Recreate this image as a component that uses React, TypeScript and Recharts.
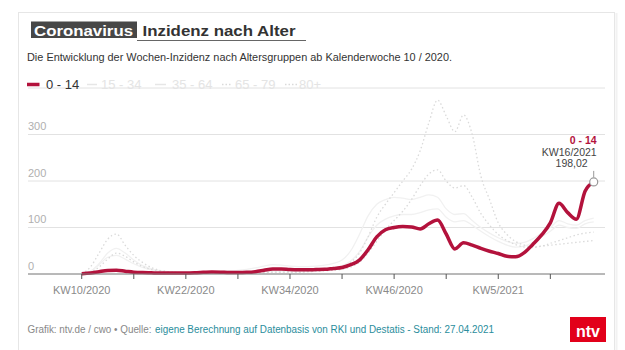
import React from 'react';
import { LineChart, Line, XAxis, YAxis, CartesianGrid } from 'recharts';

// Kalenderwochen KW10/2020 ... KW16/2021 (2020 has 53 weeks)
const weekLabels: string[] = [];
for (let kw = 10; kw <= 53; kw++) weekLabels.push(`KW${kw}/2020`);
for (let kw = 1; kw <= 16; kw++) weekLabels.push(`KW${kw}/2021`);

// weekly incidence per age group
const age0to14 = [
  0.5, 2, 5, 7.5, 8, 6, 4, 3, 2.5, 2,
  2, 2, 2, 2.5, 3.5, 4.5, 4, 3, 3, 3.5,
  5, 8, 11, 11, 9.5, 9, 9, 9.5, 10, 12,
  14, 20, 30, 52, 80, 95, 100, 102, 101, 97,
  108, 116, 86, 54, 67, 62, 55, 49, 44, 38,
  37, 46, 64, 84, 110, 152, 132, 118, 178, 198.02,
];
const age15to34 = [
  0, 6, 20, 36, 40, 32, 22, 14, 9, 6,
  4, 3, 3, 3, 4, 5, 6, 7, 8, 10,
  13, 17, 20, 19, 17, 16, 16, 17, 19, 23,
  30, 50, 85, 125, 150, 160, 165, 163, 160, 165,
  170, 165, 140, 128, 130, 115, 100, 88, 78, 70,
  66, 68, 76, 88, 100, 115, 108, 105, 115, 120,
];
const age35to64 = [
  0, 5, 22, 45, 55, 45, 30, 18, 11, 7,
  5, 4, 3, 3, 3, 3, 3, 3, 4, 4,
  5, 6, 7, 7, 7, 7, 7, 8, 10, 13,
  18, 28, 48, 80, 105, 118, 125, 128, 128, 132,
  138, 140, 122, 112, 115, 105, 92, 80, 70, 62,
  58, 60, 68, 80, 92, 105, 100, 98, 108, 112,
];
const age65to79 = [
  0, 4, 15, 32, 45, 38, 26, 16, 10, 6,
  4, 3, 2, 2, 2, 2, 2, 2, 2, 2,
  3, 3, 4, 4, 4, 4, 5, 6, 7, 8,
  10, 15, 25, 45, 70, 95, 115, 135, 160, 190,
  215, 224, 200, 185, 190, 165, 130, 105, 85, 72,
  63, 58, 57, 60, 66, 72, 78, 84, 88, 90,
];
const age80plus = [
  1, 15, 45, 75, 86, 62, 40, 25, 14, 8,
  5, 3, 2, 2, 1.5, 1.5, 1.5, 1.5, 2, 2,
  2.5, 3, 4, 4, 4, 4, 5, 6, 8, 10,
  15, 25, 45, 80, 122, 150, 175, 200, 225, 265,
  325, 374, 340, 306, 342, 300, 210, 160, 110, 85,
  70, 62, 58, 60, 62, 64, 66, 68, 70, 72,
];

const tickWeeks = [0, 6, 12, 18, 24, 30, 36, 42, 48, 54];
const labelWeeks = [0, 12, 24, 36, 48];
const yTicks = [0, 100, 200, 300];

const RED = '#b3123c';
const FAINT = '#f1f1f1';
const FAINT_DOT = '#dadada';

const data = weekLabels.map((week, i) => ({
  x: i,
  week,
  a0: age0to14[i],
  a15: age15to34[i],
  a35: age35to64[i],
  a65: age65to79[i],
  a80: age80plus[i],
}));

const lastIndex = age0to14.length - 1;

const EndMarker = (props: any) => {
  const { cx, cy, index } = props;
  if (index !== lastIndex) return <g key={`d${index}`} />;
  const value = age0to14[index].toFixed(2).replace('.', ',');
  return (
    <g key={`d${index}`}>
      <text x={cx + 3} y={cy - 37.5} textAnchor="end" fontSize={10.5} fontWeight="bold" fill={RED}>0 - 14</text>
      <text x={cx + 3} y={cy - 26} textAnchor="end" fontSize={10.5} fill="#444">{weekLabels[index]}</text>
      <text x={cx - 6} y={cy - 14.5} textAnchor="end" fontSize={10.5} fill="#444">{value}</text>
      <line x1={cx} x2={cx} y1={cy - 11} y2={cy - 4.5} stroke="#999" strokeWidth={1} />
      <circle cx={cx} cy={cy} r={4} fill="#fff" stroke="#999" strokeWidth={1.2} />
    </g>
  );
};

// y labels sit just above their gridline, left-aligned at the plot edge
const renderYTick = (props: any) => {
  const { x, y, payload } = props;
  return (
    <text key={`y${payload.value}`} x={x} y={y - 4.5} textAnchor="start" fontSize={11} fill="#b0b0b0">
      {payload.value}
    </text>
  );
};

const App: React.FC = () => {
  return (
    <div
      style={{
        position: 'absolute',
        left: 0,
        top: 0,
        width: 625,
        height: 350,
        background: '#fff',
        fontFamily: '"Liberation Sans", Arial, sans-serif',
        overflow: 'hidden',
      }}
    >
      <div style={{ position: 'absolute', left: 0, top: 0 }}>
        <LineChart width={625} height={350} data={data} margin={{ top: 88, right: 20, bottom: 46, left: 0 }}>
          <CartesianGrid vertical={false} stroke="#e2e2e2" />
          <XAxis
            dataKey="x"
            type="number"
            height={30}
            domain={[-6.19, 60.3]}
            allowDataOverflow
            ticks={tickWeeks}
            interval={0}
            tickFormatter={(v: number) => (labelWeeks.includes(v) ? weekLabels[v] : '')}
            tick={{ fontSize: 11, fill: '#8a8a8a' }}
            tickLine={{ stroke: '#555' }}
            tickSize={5}
            tickMargin={7}
            axisLine={{ stroke: '#808080' }}
          />
          <YAxis
            domain={[0, 400]}
            ticks={yTicks}
            interval={0}
            width={28}
            axisLine={false}
            tickLine={false}
            tickSize={0}
            tickMargin={0}
            tick={renderYTick}
          />
          <Line type="monotone" dataKey="a15" stroke={FAINT} strokeWidth={1.3} dot={false} isAnimationActive={false} />
          <Line type="monotone" dataKey="a35" stroke={FAINT} strokeWidth={1.3} dot={false} isAnimationActive={false} />
          <Line type="monotone" dataKey="a65" stroke={FAINT_DOT} strokeWidth={1.3} strokeDasharray="1.5 2.5" dot={false} isAnimationActive={false} />
          <Line type="monotone" dataKey="a80" stroke={FAINT_DOT} strokeWidth={1.3} strokeDasharray="1.5 2.5" dot={false} isAnimationActive={false} />
          <Line
            type="monotone"
            dataKey="a0"
            stroke={RED}
            strokeWidth={3.5}
            dot={EndMarker}
            activeDot={false}
            isAnimationActive={false}
          />
        </LineChart>
      </div>

      <svg width={625} height={350} style={{ position: 'absolute', left: 0, top: 0, pointerEvents: 'none' }}>
        {/* card frame */}
        <rect x={18.5} y={12.5} width={596} height={350} fill="none" stroke="#e6e6e6" />
        <line x1={616.5} x2={616.5} y1={13} y2={350} stroke="#f2f2f2" strokeWidth={2} />

        {/* title */}
        <rect x={31} y={21.5} width={106} height={16.5} fill="#474747" />
        <text x={34} y={35.5} fontSize={15} fontWeight="bold" fill="#fff" textLength={99} lengthAdjust="spacingAndGlyphs">Coronavirus</text>
        <text x={142.5} y={35.5} fontSize={15} fontWeight="bold" fill="#333" textLength={153} lengthAdjust="spacingAndGlyphs">Inzidenz nach Alter</text>
        <line x1={137} x2={306} y1={40.5} y2={40.5} stroke="#666" strokeWidth={1} />

        {/* subtitle */}
        <text x={27} y={61} fontSize={10.5} fill="#333" textLength={425} lengthAdjust="spacingAndGlyphs">
          Die Entwicklung der Wochen-Inzidenz nach Altersgruppen ab Kalenderwoche 10 / 2020.
        </text>

        {/* legend */}
        <line x1={27} x2={39.5} y1={84.5} y2={84.5} stroke={RED} strokeWidth={3.5} />
        <text x={46} y={89} fontSize={13} fill="#333">0 - 14</text>
        <line x1={87} x2={97} y1={84.5} y2={84.5} stroke="#e6e6e6" strokeWidth={1.5} />
        <text x={101} y={89} fontSize={13} fill="#e4e4e4">15 - 34</text>
        <line x1={155} x2={166} y1={84.5} y2={84.5} stroke="#e6e6e6" strokeWidth={1.5} />
        <text x={172} y={89} fontSize={13} fill="#e4e4e4">35 - 64</text>
        <line x1={222} x2={232} y1={84.5} y2={84.5} stroke={FAINT_DOT} strokeWidth={1.5} strokeDasharray="1.5 2" />
        <text x={235} y={89} fontSize={13} fill="#e4e4e4">65 - 79</text>
        <line x1={285} x2={297} y1={84.5} y2={84.5} stroke={FAINT_DOT} strokeWidth={1.5} strokeDasharray="1.5 2" />
        <text x={299} y={89} fontSize={13} fill="#e4e4e4">80+</text>

        {/* footer */}
        <text x={27.5} y={333} fontSize={10} fill="#888" textLength={124} lengthAdjust="spacingAndGlyphs">Grafik: ntv.de / cwo • Quelle:</text>
        <text x={155} y={333} fontSize={10} fill="#2a8d9c" textLength={339} lengthAdjust="spacingAndGlyphs">
          eigene Berechnung auf Datenbasis von RKI und Destatis - Stand: 27.04.2021
        </text>

        {/* logo */}
        <rect x={570} y={317} width={36} height={25} fill="#e2001a" />
        <text x={588} y={337} textAnchor="middle" fontSize={16} fontWeight="bold" fill="#fff">ntv</text>
      </svg>
    </div>
  );
};

export default App;
